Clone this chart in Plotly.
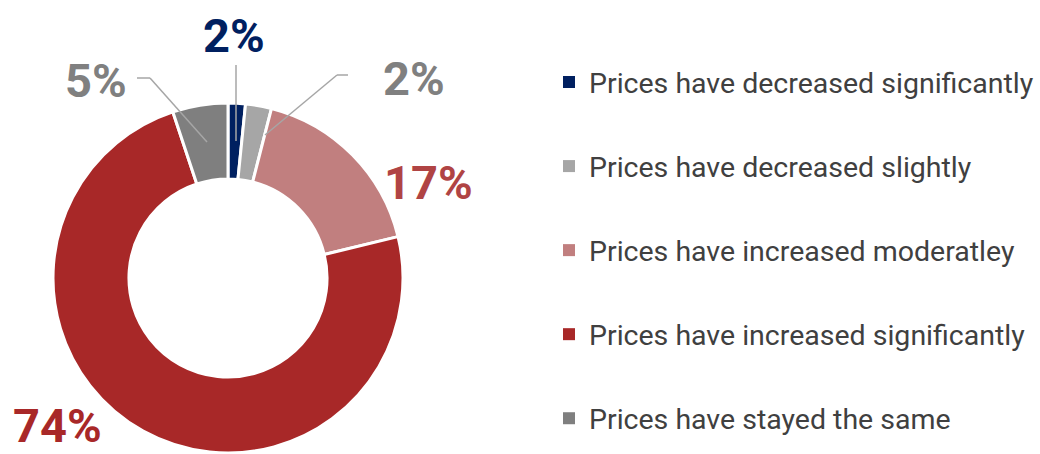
import plotly.graph_objects as go

# ---- data ----
categories = [
    "Prices have decreased significantly",
    "Prices have decreased slightly",
    "Prices have increased moderatley",
    "Prices have increased significantly",
    "Prices have stayed the same",
]
values = [1.6, 2.4, 17.2, 73.7, 5.1]
slice_colors = ["#002060", "#A6A6A6", "#C17F7F", "#A82828", "#7F7F7F"]
label_colors = ["#002060", "#808080", "#B04444", "#A82828", "#808080"]

# ---- layout helpers (pixel -> paper) ----
W, H = 1040, 454
def px(x):
    return x / W
def py(y):
    return 1 - y / H

label_pos = [(234, 36), (414, 78), (428, 182), (57, 425), (96, 80)]
leaders = [
    [(236, 65), (236, 141)],
    [(348, 75), (337, 75), (265, 135)],
    None,
    None,
    [(137, 78), (150, 78), (207, 142)],
]

fig = go.Figure()
fig.add_trace(go.Pie(
    labels=categories,
    values=values,
    sort=False,
    direction="clockwise",
    rotation=0,
    hole=0.566,
    marker=dict(colors=slice_colors, line=dict(color="white", width=3)),
    textinfo="none",
    showlegend=False,
    domain=dict(x=[px(53), px(403)], y=[py(453), py(103)]),
))

# legend entries
for cat, col in zip(categories, slice_colors):
    fig.add_trace(go.Scatter(
        x=[None], y=[None], mode="markers", name=cat, legendgroup=cat,
        marker=dict(symbol="square", size=12, color=col),
        hoverinfo="skip",
    ))

annotations = []
for v, col, (lx, ly) in zip(values, label_colors, label_pos):
    annotations.append(dict(
        x=px(lx), y=py(ly), xref="paper", yref="paper",
        text=f"<b>{round(v)}%</b>", showarrow=False,
        xanchor="center", yanchor="middle",
        font=dict(family="Roboto", size=47, color=col),
    ))

shapes = []
for pts in leaders:
    if not pts:
        continue
    for (x0, y0), (x1, y1) in zip(pts[:-1], pts[1:]):
        shapes.append(dict(
            type="line", xref="paper", yref="paper",
            x0=px(x0), y0=py(y0), x1=px(x1), y1=py(y1),
            line=dict(color="#A6A6A6", width=1.5),
        ))

fig.update_layout(
    width=W, height=H,
    margin=dict(l=0, r=0, t=0, b=0),
    paper_bgcolor="white", plot_bgcolor="white",
    xaxis=dict(visible=False), yaxis=dict(visible=False),
    annotations=annotations, shapes=shapes,
    legend=dict(
        x=px(549), y=py(57), xanchor="left", yanchor="top",
        font=dict(family="Roboto", size=28.5, color="#404040"),
        tracegroupgap=44, itemwidth=30, traceorder="grouped",
        bgcolor="rgba(0,0,0,0)",
    ),
)

fig.write_html(
    "out.html",
    config={"displayModeBar": False},
    post_script="document.body.style.margin='0px';",
)
